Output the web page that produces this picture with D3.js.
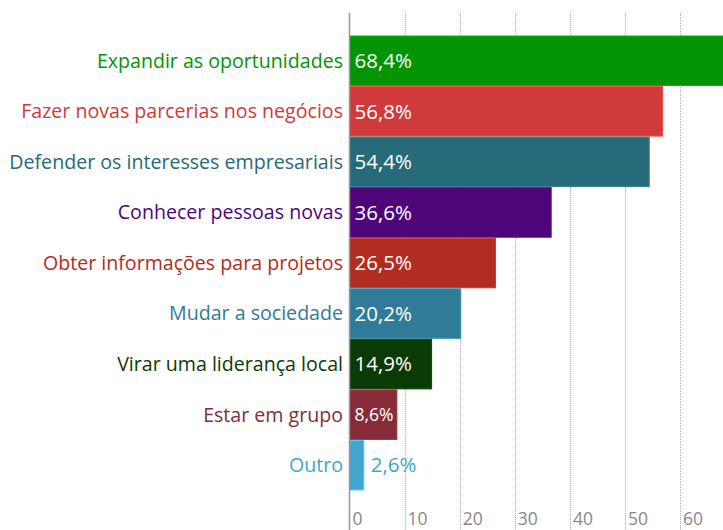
<!DOCTYPE html>
<html><head><meta charset="utf-8">
<script src="https://cdn.jsdelivr.net/npm/d3@7"></script>
<style>body{margin:0;background:#fff;overflow:hidden}svg{display:block}</style>
</head><body>
<script>
const categories = ["Expandir as oportunidades","Fazer novas parcerias nos negócios","Defender os interesses empresariais","Conhecer pessoas novas","Obter informações para projetos","Mudar a sociedade","Virar uma liderança local","Estar em grupo","Outro"];
const values = [68.4,56.8,54.4,36.6,26.5,20.2,14.9,8.6,2.6];
const valueLabels = ["68,4%","56,8%","54,4%","36,6%","26,5%","20,2%","14,9%","8,6%","2,6%"];
const colors = ["#039403","#cf3a3a","#276a79","#4f057a","#b12c21","#2f7b98","#0b3b05","#862b37","#42a5cd"];
const ticks = [0,10,20,30,40,50,60];

const W=723,H=530;
const svg=d3.select("body").append("svg").attr("width",W).attr("height",H);
const x=d3.scaleLinear().domain([0,10]).range([349.5,404.6]);
const y=d3.scaleBand().domain(categories).range([36,490]).paddingInner(0.02).paddingOuter(0);
const font="'Open Sans', sans-serif";

// gridlines
svg.append("g").selectAll("line").data(ticks.slice(1)).join("line")
 .attr("x1",d=>Math.round(x(d))+0.5).attr("x2",d=>Math.round(x(d))+0.5)
 .attr("y1",13).attr("y2",H).attr("stroke","#aaa").attr("stroke-dasharray","1,1");

// bars
svg.append("g").selectAll("rect").data(values).join("rect")
 .attr("x",x(0)).attr("y",(d,i)=>y(categories[i]))
 .attr("width",d=>x(d)-x(0)).attr("height",y.bandwidth())
 .attr("fill",(d,i)=>colors[i])
 .attr("stroke",(d,i)=>d3.color(colors[i]).brighter(0.6)).attr("stroke-width",1);

// axis line
svg.append("line").attr("x1",349.5).attr("x2",349.5).attr("y1",13).attr("y2",H).attr("stroke","#999").attr("stroke-width",1.5);

// category labels
svg.append("g").selectAll("text").data(categories).join("text")
 .attr("x",343).attr("y",d=>y(d)+y.bandwidth()/2).attr("dy","0.35em")
 .attr("text-anchor","end").attr("font-family",font).attr("font-size",19.6)
 .attr("fill",(d,i)=>colors[i]).text(d=>d);

// value labels
svg.append("g").selectAll("text").data(values).join("text")
 .attr("x",(d,i)=> d<5 ? x(d)+7 : x(0)+5)
 .attr("y",(d,i)=>y(categories[i])+y.bandwidth()/2).attr("dy","0.35em")
 .attr("font-family",font).attr("font-size",(d,i)=> d<10&&d>=5?17.5:20.5)
 .attr("fill",(d,i)=> d<5?colors[i]:"#fff").text((d,i)=>valueLabels[i]);

// tick labels
svg.append("g").selectAll("text").data(ticks).join("text")
 .attr("x",d=>x(d)+3).attr("y",525)
 .attr("font-family",font).attr("font-size",17.5).attr("fill","#888").text(d=>d);
</script>
</body></html>
